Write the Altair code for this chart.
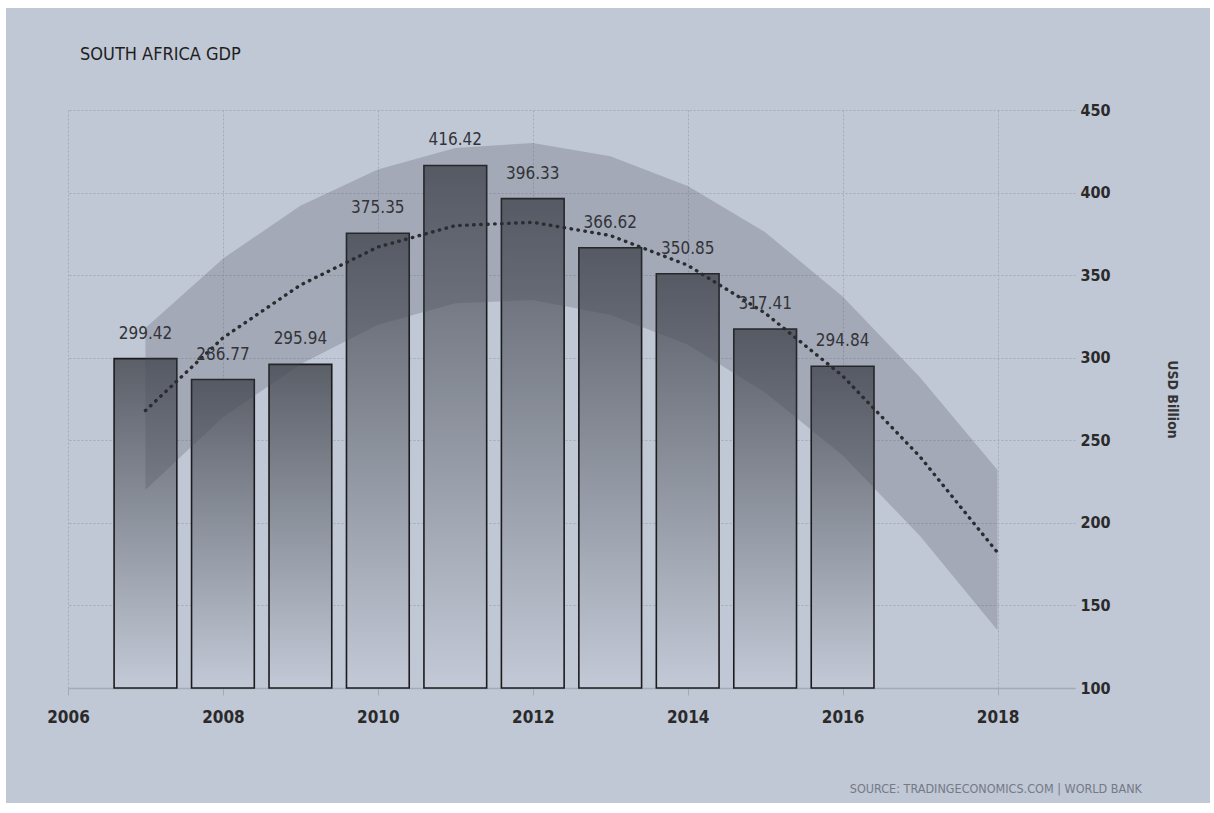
import altair as alt
import pandas as pd

# ---- data ----
years = [2007, 2008, 2009, 2010, 2011, 2012, 2013, 2014, 2015, 2016]
gdp = [299.42, 286.77, 295.94, 375.35, 416.42, 396.33, 366.62, 350.85, 317.41, 294.84]

trend_years = [2007, 2008, 2009, 2010, 2011, 2012, 2013, 2014, 2015, 2016, 2017, 2018]
trend = [268, 312, 344, 367, 380, 382, 374, 356, 327, 289, 240, 182]
band_upper = [318, 360, 392, 414, 427, 430, 422, 404, 376, 337, 288, 232]
band_lower = [220, 264, 296, 320, 333, 335, 326, 308, 279, 241, 192, 135]

x_ticks = [2006, 2008, 2010, 2012, 2014, 2016, 2018]
y_ticks = [100, 150, 200, 250, 300, 350, 400, 450]

bars_df = pd.DataFrame({"year": years, "gdp": gdp})
trend_df = pd.DataFrame({"year": trend_years, "trend": trend,
                         "upper": band_upper, "lower": band_lower})

FONT = "DejaVu Sans Condensed, Liberation Sans Narrow, Roboto Condensed, Arial Narrow, sans-serif"
BG = "#c0c7d5"
GRID = "#a3aab7"

xscale = alt.Scale(domain=[2006, 2019], nice=False, zero=False)
yscale = alt.Scale(domain=[100, 450], nice=False, zero=False)

x_axis = alt.Axis(values=x_ticks, format="d", title=None, grid=True,
                  gridColor=GRID, gridDash=[2, 2], gridWidth=1,
                  domain=True, domainColor="#a4abb8", domainWidth=1.5,
                  tickColor="#a4abb8", tickSize=7, labelPadding=14,
                  labelFlush=False, labelOverlap=False,
                  labelFont=FONT, labelFontSize=17, labelFontWeight="bold",
                  labelColor="#2a2a2a")
y_axis = alt.Axis(orient="right", values=y_ticks, title="USD Billion",
                  grid=True, gridColor=GRID, gridDash=[2, 2], gridWidth=1,
                  domain=False, ticks=False, labelPadding=5,
                  labelFlush=False, labelOverlap=False,
                  labelFont=FONT, labelFontSize=16, labelFontWeight="bold",
                  labelColor="#2a2a2a", titleFont=FONT, titleFontSize=14,
                  titleFontWeight="bold", titleColor="#333333", titlePadding=54)

bars = alt.Chart(bars_df).mark_bar(
    color=alt.Gradient(gradient="linear", x1=0, y1=0, x2=0, y2=1,
                       stops=[alt.GradientStop(offset=0, color="#5a5f68"),
                              alt.GradientStop(offset=1, color="#c3c9d6")]),
    stroke="#1c1c1e", strokeWidth=1.6
).transform_calculate(
    x0="datum.year - 0.405", x1="datum.year + 0.405"
).encode(
    x=alt.X("x0:Q", scale=xscale, axis=x_axis),
    x2="x1:Q",
    y=alt.Y("gdp:Q", scale=yscale, axis=y_axis),
    y2=alt.datum(100),
)

band = alt.Chart(trend_df).mark_area(color="#474c57", opacity=0.24).encode(
    x=alt.X("year:Q", scale=xscale),
    y=alt.Y("upper:Q", scale=yscale),
    y2="lower:Q",
)

line = alt.Chart(trend_df).mark_line(
    color="#2a2c30", strokeWidth=3.4, strokeDash=[0.5, 6.5], strokeCap="round"
).encode(
    x=alt.X("year:Q", scale=xscale),
    y=alt.Y("trend:Q", scale=yscale),
)

labels = alt.Chart(bars_df).mark_text(
    font=FONT, fontSize=17, color="#333438", baseline="bottom", dy=-16
).encode(
    x=alt.X("year:Q", scale=xscale),
    y=alt.Y("gdp:Q", scale=yscale),
    text=alt.Text("gdp:Q", format=".2f"),
)

title = alt.Chart(alt.Data(values=[{}])).mark_text(
    text="SOUTH AFRICA GDP", font=FONT, fontSize=18, color="#1e1e1e",
    align="left", baseline="alphabetic"
).encode(x=alt.value(12), y=alt.value(-50))

source = alt.Chart(alt.Data(values=[{}])).mark_text(
    text="SOURCE: TRADINGECONOMICS.COM | WORLD BANK", font=FONT, fontSize=12.5,
    color="#747a86", align="right", baseline="alphabetic"
).encode(x=alt.value(1074), y=alt.value(683))

# white frame around the panel (as in the reference screenshot)
frame = alt.Chart(alt.Data(values=[{}])).mark_rect(
    fill="transparent", stroke="white", strokeWidth=12
).encode(x=alt.value(-68), x2=alt.value(1148), y=alt.value(-108), y2=alt.value(699))

chart = alt.layer(bars, band, line, labels, title, source, frame).properties(
    width=1007, height=578,
    padding={"left": 68, "top": 110, "right": 139, "bottom": 125},
    autosize=alt.AutoSizeParams(type="none"),
    background=BG,
).configure_view(stroke=None)

chart.save("out.html", embed_options={"renderer": "svg", "actions": False})
